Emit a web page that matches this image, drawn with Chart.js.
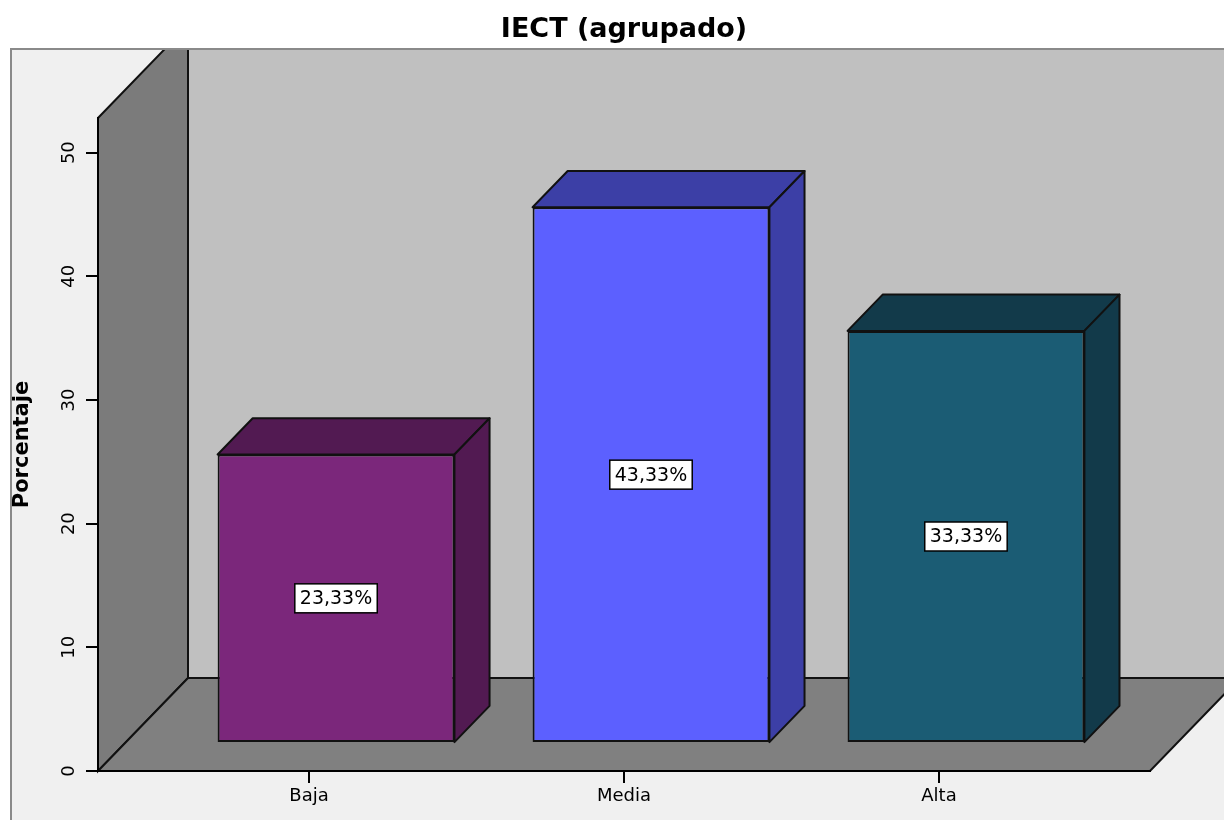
<!DOCTYPE html>
<html lang="es">
<head>
<meta charset="utf-8">
<title>IECT (agrupado)</title>
<script src="https://cdn.jsdelivr.net/npm/chart.js@4.4.1/dist/chart.umd.min.js"></script>
<style>
  html, body { margin: 0; padding: 0; background: #fff; }
  #contenedor { width: 1224px; height: 820px; }
</style>
</head>
<body>
<div id="contenedor"><canvas id="graficoIECT" width="1224" height="820"></canvas></div>
<script>
// Datos
const categorias = ['Baja', 'Media', 'Alta'];
const posiciones = [0, 1, 2];
const porcentajes = [23.33, 43.33, 33.33];
const ticksY = [0, 10, 20, 30, 40, 50];

const coloresFrente = ['#7b277b', '#5c60ff', '#1b5c74'];
const coloresLado = ['#521a52', '#3c3fa6', '#123a4a'];

// efecto 3D: desplazamiento de la profundidad total y donde empieza/termina cada barra
const prof = { dx: 90, dy: -93 };
const frenteBarra = 0.3;
const fondoBarra = 0.69;

function poligono(ctx, puntos, relleno) {
  ctx.beginPath();
  puntos.forEach(([px, py], i) => i ? ctx.lineTo(px, py) : ctx.moveTo(px, py));
  ctx.closePath();
  ctx.fillStyle = relleno;
  ctx.fill();
  ctx.stroke();
}

// Paredes y suelo, antes que los ejes
const fondo3D = {
  id: 'fondo3D',
  beforeDraw(chart) {
    const ctx = chart.ctx;
    const a = chart.chartArea;
    ctx.save();
    ctx.fillStyle = '#fff';
    ctx.fillRect(0, 0, chart.width, chart.height);
    ctx.fillStyle = '#f0f0f0';
    ctx.fillRect(11, 49, chart.width, chart.height);
    ctx.strokeStyle = '#8a8a8a';
    ctx.lineWidth = 2;
    ctx.beginPath();
    ctx.moveTo(11, chart.height);
    ctx.lineTo(11, 49);
    ctx.lineTo(chart.width, 49);
    ctx.stroke();
    // todo lo demás queda dentro del marco
    ctx.beginPath();
    ctx.rect(12, 50, chart.width, chart.height);
    ctx.clip();
    ctx.lineWidth = 2;
    ctx.strokeStyle = '#111';
    const t = a.top + prof.dy, b = a.bottom + prof.dy;
    poligono(ctx, [[a.left + prof.dx, t], [a.right + prof.dx, t], [a.right + prof.dx, b], [a.left + prof.dx, b]], '#c0c0c0');
    poligono(ctx, [[a.left, a.bottom], [a.left, a.top], [a.left + prof.dx, t], [a.left + prof.dx, b]], '#7b7b7b');
    poligono(ctx, [[a.left, a.bottom], [a.right, a.bottom], [a.right + prof.dx, b], [a.left + prof.dx, b]], '#808080');
    ctx.restore();
  }
};

// Caras superior y lateral de cada barra + etiquetas
const barras3D = {
  id: 'barras3D',
  beforeDatasetsDraw(chart) {
    const ctx = chart.ctx;
    const meta = chart.getDatasetMeta(0);
    const f = { x: prof.dx * frenteBarra, y: prof.dy * frenteBarra };
    const b = { x: prof.dx * fondoBarra, y: prof.dy * fondoBarra };
    ctx.save();
    ctx.lineWidth = 2;
    ctx.strokeStyle = '#111';
    ctx.lineJoin = 'round';
    meta.data.forEach((barra, i) => {
      const { x, y, base, width } = barra.getProps(['x', 'y', 'base', 'width'], true);
      const izq = x - width / 2, der = x + width / 2;
      poligono(ctx, [[izq + f.x, y + f.y], [der + f.x, y + f.y], [der + b.x, y + b.y], [izq + b.x, y + b.y]], coloresLado[i]);
      poligono(ctx, [[der + f.x, y + f.y], [der + b.x, y + b.y], [der + b.x, base + b.y], [der + f.x, base + f.y]], coloresLado[i]);
    });
    ctx.restore();
    // la cara frontal la pinta Chart.js, desplazada hacia dentro
    ctx.save();
    ctx.translate(f.x, f.y);
  },
  afterDatasetsDraw(chart) {
    const ctx = chart.ctx;
    ctx.restore();
    const meta = chart.getDatasetMeta(0);
    const f = { x: prof.dx * frenteBarra, y: prof.dy * frenteBarra };
    ctx.save();
    ctx.font = '19px "DejaVu Sans"';
    ctx.textAlign = 'center';
    ctx.textBaseline = 'middle';
    meta.data.forEach((barra, i) => {
      const { x, y, base } = barra.getProps(['x', 'y', 'base'], true);
      const texto = porcentajes[i].toFixed(2).replace('.', ',') + '%';
      const ancho = ctx.measureText(texto).width + 10;
      const alto = 29;
      const cx = x + f.x, cy = (y + base) / 2 + f.y;
      ctx.fillStyle = '#fff';
      ctx.fillRect(cx - ancho / 2, cy - alto / 2, ancho, alto);
      ctx.strokeStyle = '#000';
      ctx.lineWidth = 1.5;
      ctx.strokeRect(cx - ancho / 2, cy - alto / 2, ancho, alto);
      ctx.fillStyle = '#000';
      ctx.fillText(texto, cx, cy + 1);
    });
    ctx.restore();
  }
};

Chart.defaults.font.family = '"DejaVu Sans", sans-serif';
Chart.defaults.color = '#000';

document.addEventListener('DOMContentLoaded', function () {
  const ctx = document.getElementById('graficoIECT');
  new Chart(ctx, {
    type: 'bar',
    data: {
      datasets: [{
        label: 'Porcentaje',
        data: posiciones.map((p, i) => ({ x: p, y: porcentajes[i] })),
        backgroundColor: coloresFrente,
        borderColor: '#111',
        borderWidth: 2,
        borderSkipped: false,
        categoryPercentage: 0.752,
        barPercentage: 1
      }]
    },
    options: {
      responsive: false,
      devicePixelRatio: 1,
      animation: false,
      layout: { padding: { left: 0, right: 74, top: 0, bottom: 0 } },
      plugins: {
        legend: { display: false },
        tooltip: { enabled: false },
        title: {
          display: true,
          fullSize: false,
          text: 'IECT (agrupado)',
          color: '#000',
          font: { size: 27, weight: 'bold' },
          padding: { top: 14, bottom: 71.6 }
        }
      },
      scales: {
        x: {
          type: 'linear',
          min: -0.67,
          max: 2.67,
          offset: false,
          afterBuildTicks: s => { s.ticks = posiciones.map(v => ({ value: v })); },
          grid: { display: true, drawOnChartArea: false, offset: false, tickLength: 12, color: '#000', lineWidth: 2 },
          border: { display: true, color: '#000', width: 2 },
          ticks: {
            color: '#000',
            font: { size: 18 },
            padding: 3,
            maxRotation: 0,
            autoSkip: false,
            callback: v => categorias[posiciones.indexOf(v)]
          },
          afterFit: s => { s.height = 49; }
        },
        y: {
          min: 0,
          max: 52.8,
          afterBuildTicks: s => { s.ticks = ticksY.map(v => ({ value: v })); },
          grid: { display: true, drawOnChartArea: false, tickLength: 12, color: '#000', lineWidth: 2 },
          border: { display: true, color: '#000', width: 2 },
          ticks: { color: '#000', font: { size: 18 }, padding: 5, minRotation: 90, maxRotation: 90, crossAlign: 'center' },
          title: {
            display: true,
            text: 'Porcentaje',
            color: '#000',
            font: { size: 21, weight: 'bold' },
            padding: { top: 10 }
          },
          afterFit: s => { s.width = 98; }
        }
      }
    },
    plugins: [fondo3D, barras3D]
  });
});
</script>
</body>
</html>
